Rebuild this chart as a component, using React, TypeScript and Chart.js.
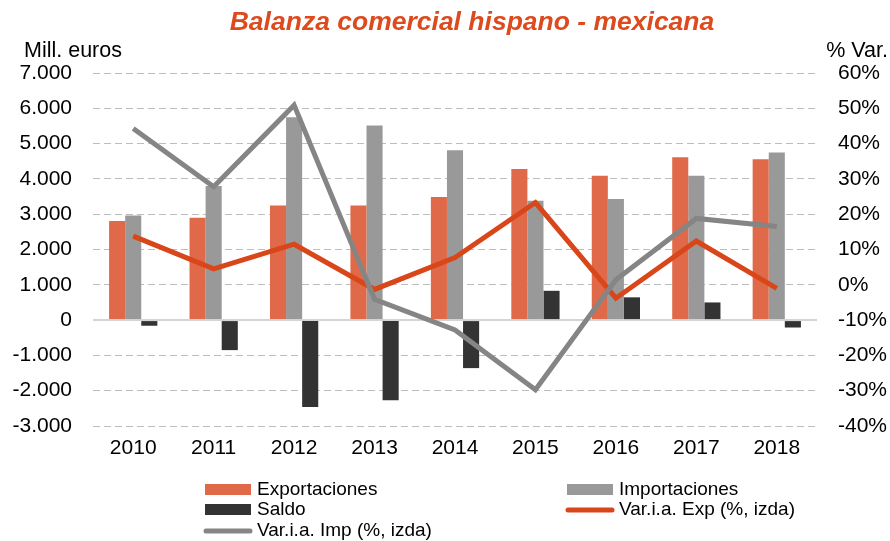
import React, { useEffect, useRef } from 'react';
import { Chart, registerables } from 'chart.js';
Chart.register(...registerables);

const FONT = '"Liberation Sans", Arial, Helvetica, sans-serif';

const categories = ['2010', '2011', '2012', '2013', '2014', '2015', '2016', '2017', '2018'];
const exportaciones = [2810, 2900, 3250, 3250, 3490, 4280, 4090, 4610, 4560];
const importaciones = [2960, 3800, 5750, 5510, 4810, 3380, 3430, 4090, 4750];
const saldo = [-160, -850, -2460, -2270, -1360, 830, 645, 500, -210];
const varExp = [13.8, 4.5, 11.5, -1.3, 7.7, 23.3, -3.8, 12.4, -1.0];
const varImp = [44.3, 27.8, 50.9, -4.1, -12.8, -29.7, 1.4, 18.8, 16.5];

const TITLE = 'Balanza comercial hispano - mexicana';
const LEFT_TITLE = 'Mill. euros';
const RIGHT_TITLE = '% Var.';

const C_EXP = '#E0694A';
const C_IMP = '#999999';
const C_SALDO = '#333333';
const C_LEXP = '#D9461A';
const C_LIMP = '#858585';
const C_TITLE = '#DC4A1E';

function fmtThousands(v: number): string {
  const neg = v < 0;
  const s = Math.abs(Math.round(v)).toString();
  const out = s.replace(/\B(?=(\d{3})+(?!\d))/g, '.');
  return (neg ? '-' : '') + out;
}

const textPlugin = {
  id: 'textPlugin',
  afterDraw(chart: any) {
    const ctx = chart.ctx as CanvasRenderingContext2D;
    ctx.save();
    // title
    ctx.fillStyle = C_TITLE;
    ctx.font = `italic bold 26.5px ${FONT}`;
    ctx.textAlign = 'center';
    ctx.textBaseline = 'middle';
    ctx.fillText(TITLE, 472, 23);
    // axis titles
    ctx.fillStyle = '#000';
    ctx.font = `21.5px ${FONT}`;
    ctx.textAlign = 'left';
    ctx.fillText(LEFT_TITLE, 24, 51);
    ctx.textAlign = 'right';
    ctx.fillText(RIGHT_TITLE, 888, 51);

    // legend
    const ds = chart.data.datasets;
    const items = [
      { i: 0, x: 205, y: 490, kind: 'box' },
      { i: 1, x: 567, y: 490, kind: 'box' },
      { i: 2, x: 205, y: 510, kind: 'box' },
      { i: 3, x: 567, y: 510, kind: 'line' },
      { i: 4, x: 205, y: 531, kind: 'line' },
    ];
    ctx.font = `19px ${FONT}`;
    ctx.textAlign = 'left';
    ctx.textBaseline = 'middle';
    for (const it of items) {
      const d = ds[it.i];
      if (it.kind === 'box') {
        ctx.fillStyle = d.backgroundColor;
        ctx.fillRect(it.x, it.y - 6, 46, 11);
      } else {
        ctx.strokeStyle = d.borderColor;
        ctx.lineWidth = 5;
        ctx.lineCap = 'round';
        ctx.beginPath();
        ctx.moveTo(it.x + 1, it.y);
        ctx.lineTo(it.x + 45, it.y);
        ctx.stroke();
      }
      ctx.fillStyle = '#000';
      ctx.fillText(d.label, it.x + 52, it.y);
    }
    ctx.restore();
  },
};

export default function App() {
  const ref = useRef<HTMLCanvasElement>(null);
  useEffect(() => {
    document.body.style.margin = '0';
    const chart = new Chart(ref.current!, {
      type: 'bar',
      data: {
        labels: categories,
        datasets: [
          { type: 'bar', label: 'Exportaciones', data: exportaciones, backgroundColor: C_EXP, yAxisID: 'y', order: 2, categoryPercentage: 0.6, barPercentage: 1.0 },
          { type: 'bar', label: 'Importaciones', data: importaciones, backgroundColor: C_IMP, yAxisID: 'y', order: 2, categoryPercentage: 0.6, barPercentage: 1.0 },
          { type: 'bar', label: 'Saldo', data: saldo, backgroundColor: C_SALDO, yAxisID: 'y', order: 2, categoryPercentage: 0.6, barPercentage: 1.0 },
          { type: 'line', label: 'Var.i.a. Exp (%, izda)', data: varExp, borderColor: C_LEXP, backgroundColor: C_LEXP, borderWidth: 5, pointRadius: 0, tension: 0, yAxisID: 'y1', order: 1 },
          { type: 'line', label: 'Var.i.a. Imp (%, izda)', data: varImp, borderColor: C_LIMP, backgroundColor: C_LIMP, borderWidth: 5, pointRadius: 0, tension: 0, yAxisID: 'y1', order: 0 },
        ] as any,
      },
      options: {
        responsive: false,
        animation: false,
        layout: { padding: { top: 73, bottom: 75, left: 0, right: 0 } },
        plugins: {
          legend: { display: false },
          title: { display: false },
          tooltip: { enabled: false },
        },
        scales: {
          x: {
            grid: { display: false, drawTicks: false },
            border: { display: false },
            ticks: { color: '#000', font: { family: FONT, size: 21 }, padding: 10, maxRotation: 0 },
            afterFit: (s: any) => { s.height = 40; },
          },
          y: {
            position: 'left',
            min: -3000,
            max: 7000,
            ticks: {
              stepSize: 1000,
              color: '#000',
              font: { family: FONT, size: 21 },
              padding: 21,
              callback: (v: any) => fmtThousands(Number(v)),
            },
            grid: {
              drawTicks: false,
              color: (c: any) => (c.tick && c.tick.value === 0 ? '#d4d4d4' : '#bdbdbd'),
              lineWidth: (c: any) => (c.tick && c.tick.value === 0 ? 2 : 1),
            },
            border: {
              display: false,
              dash: (c: any) => (c.tick && c.tick.value === 0 ? [] : [7, 4]),
            },
            afterFit: (s: any) => { s.width = 93; },
          },
          y1: {
            position: 'right',
            min: -40,
            max: 60,
            ticks: {
              stepSize: 10,
              color: '#000',
              font: { family: FONT, size: 21 },
              padding: 21,
              callback: (v: any) => `${v}%`,
            },
            grid: { display: false, drawTicks: false },
            border: { display: false },
            afterFit: (s: any) => { s.width = 73; },
          },
        },
      } as any,
      plugins: [textPlugin],
    });
    return () => chart.destroy();
  }, []);
  return <canvas ref={ref} width={890} height={541} style={{ display: 'block' }} />;
}
